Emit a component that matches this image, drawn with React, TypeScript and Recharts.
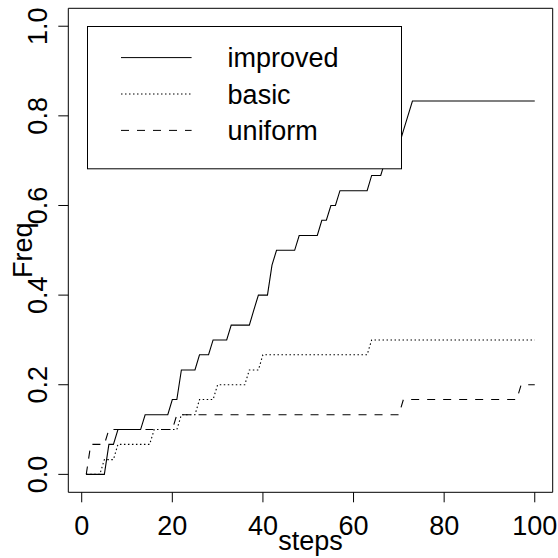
import React from 'react';
import { LineChart, Line, XAxis, YAxis, Legend, ReferenceArea, Label } from 'recharts';

// axis ticks
const stepTicks = [0, 20, 40, 60, 80, 100];
const freqTicks = [0, 0.2, 0.4, 0.6, 0.8, 1.0];

// vertices of each curve (steps, freq)
const improvedSteps = [1, 5, 6, 7, 8, 13, 14, 19, 20, 21, 22, 25, 26, 28, 29, 32, 33, 37, 38, 39, 41, 42, 43, 47, 48, 52, 53, 54, 55, 56, 57, 63, 64, 66, 67, 68, 69, 70, 71, 72, 73, 100];
const improvedFreq = [0, 0, 0.067, 0.067, 0.1, 0.1, 0.133, 0.133, 0.167, 0.167, 0.233, 0.233, 0.267, 0.267, 0.3, 0.3, 0.333, 0.333, 0.367, 0.4, 0.4, 0.467, 0.5, 0.5, 0.533, 0.533, 0.567, 0.567, 0.6, 0.6, 0.633, 0.633, 0.667, 0.667, 0.7, 0.7, 0.733, 0.733, 0.767, 0.8, 0.833, 0.833];

const basicSteps = [1, 4, 5, 7, 8, 15, 16, 21, 22, 25, 26, 29, 30, 36, 37, 39, 40, 63, 64, 100];
const basicFreq = [0, 0, 0.033, 0.033, 0.067, 0.067, 0.1, 0.1, 0.133, 0.133, 0.167, 0.167, 0.2, 0.2, 0.233, 0.233, 0.267, 0.267, 0.3, 0.3];

const uniformSteps = [1, 2, 5, 6, 20, 21, 70, 71, 96, 97, 100];
const uniformFreq = [0, 0.067, 0.067, 0.1, 0.1, 0.133, 0.133, 0.167, 0.167, 0.2, 0.2];

const seriesNames = ['improved', 'basic', 'uniform'];
const seriesDash = ['', '1.5 2.5', '8 8'];

const FONT = '"Liberation Sans", Arial, Helvetica, sans-serif';
const FS = 27;

const toPoints = (xs: number[], ys: number[]) => xs.map((x, i) => ({ x, y: ys[i] }));

const FreqTick = (props: any) => {
  const { x, y, payload } = props;
  return (
    <text
      x={x}
      y={y}
      transform={`rotate(-90 ${x} ${y})`}
      textAnchor="middle"
      fontSize={FS}
      fontFamily={FONT}
      fill="#000"
    >
      {Number(payload.value).toFixed(1)}
    </text>
  );
};

const StepTick = (props: any) => {
  const { x, y, payload } = props;
  return (
    <text x={x} y={y + 21} textAnchor="middle" fontSize={FS} fontFamily={FONT} fill="#000">
      {payload.value}
    </text>
  );
};

const renderLegend = () => (
  <svg width={316} height={144} style={{ display: 'block' }}>
    <rect x={0.5} y={0.5} width={314} height={142.3} fill="#fff" stroke="#000" strokeWidth={1} />
    {seriesNames.map((name, i) => {
      const ly = 31.6 + i * 36.4;
      return (
        <g key={name}>
          <line x1={34} x2={104.6} y1={ly} y2={ly} stroke="#000" strokeWidth={1} strokeDasharray={seriesDash[i] || undefined} />
          <text x={140.6} y={ly + 9.6} fontSize={FS} fontFamily={FONT} fill="#000">
            {name}
          </text>
        </g>
      );
    })}
  </svg>
);

export default function App() {
  const series = [
    toPoints(improvedSteps, improvedFreq),
    toPoints(basicSteps, basicFreq),
    toPoints(uniformSteps, uniformFreq),
  ];

  return (
    <div style={{ position: 'absolute', left: 0, top: 0, width: 558, height: 558, background: '#fff' }}>
      <LineChart width={558} height={558} margin={{ top: 8.3, right: 5.3, bottom: 5.7, left: 8.3 }}>
        <XAxis
          type="number"
          dataKey="x"
          domain={[-2.96, 103.96]}
          ticks={stepTicks}
          interval={0}
          allowDataOverflow
          height={60}
          tickSize={10}
          tickMargin={12}
          axisLine={false}
          tickLine={{ stroke: '#000', strokeWidth: 1 }}
          tick={<StepTick />}
        >
          <Label
            content={(p: any) => {
              const vb = p.viewBox;
              return (
                <text x={vb.x + vb.width / 2} y={vb.y + 57.7} textAnchor="middle" fontSize={FS} fontFamily={FONT} fill="#000">
                  steps
                </text>
              );
            }}
          />
        </XAxis>
        <YAxis
          type="number"
          dataKey="y"
          domain={[-0.04, 1.04]}
          ticks={freqTicks}
          interval={0}
          allowDataOverflow
          width={60}
          tickSize={10}
          tickMargin={11.6}
          axisLine={false}
          tickLine={{ stroke: '#000', strokeWidth: 1 }}
          tick={<FreqTick />}
        >
          <Label
            content={(p: any) => {
              const vb = p.viewBox;
              const lx = vb.x + 23.4;
              const ly = vb.y + vb.height / 2;
              return (
                <text x={lx} y={ly} transform={`rotate(-90 ${lx} ${ly})`} textAnchor="middle" fontSize={FS} fontFamily={FONT} fill="#000">
                  Freq
                </text>
              );
            }}
          />
        </YAxis>
        <ReferenceArea x1={-2.96} x2={103.96} y1={-0.04} y2={1.04} fill="none" stroke="#000" strokeWidth={1} ifOverflow="visible" />
        {series.map((pts, i) => (
          <Line
            key={seriesNames[i]}
            data={pts}
            dataKey="y"
            name={seriesNames[i]}
            type="linear"
            stroke="#000"
            strokeWidth={1.1}
            strokeDasharray={seriesDash[i] || undefined}
            dot={false}
            activeDot={false}
            isAnimationActive={false}
          />
        ))}
        <Legend
          layout="vertical"
          align="center"
          verticalAlign="middle"
          content={renderLegend}
          wrapperStyle={{ left: 87.2, top: 26.2, width: 316, height: 144, right: 'auto', bottom: 'auto' }}
        />
      </LineChart>
    </div>
  );
}
